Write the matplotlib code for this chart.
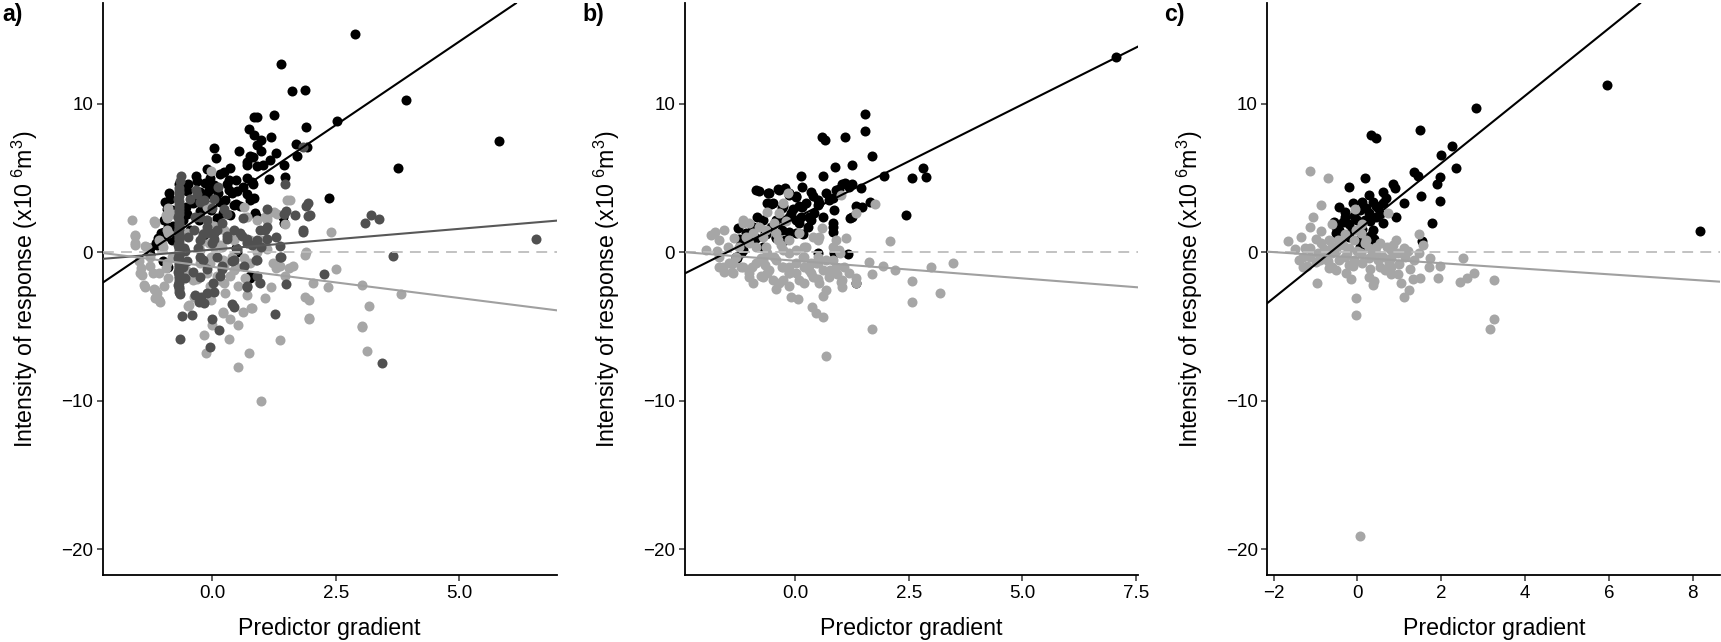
import matplotlib
matplotlib.use('Agg')
from matplotlib import pyplot as plt

plt.rcParams['font.family'] = ['Liberation Sans', 'DejaVu Sans']
plt.rcParams['mathtext.default'] = 'regular'

# ---- panel a ----
a_black = [(2.88, 14.7), (1.39, 12.66), (1.62, 10.86), (1.87, 10.93), (3.92, 10.26), (2.52, 8.87),
           (0.84, 9.14), (0.90, 9.09), (1.24, 9.25), (0.75, 8.28), (1.90, 8.42), (5.81, 7.5),
           (0.84, 7.9), (0.98, 7.56), (1.18, 7.79), (0.91, 7.23), (1.69, 7.3), (1.91, 7.12),
           (0.03, 7.0), (0.54, 6.85), (0.99, 6.85), (0.07, 6.33), (0.77, 6.49), (1.29, 6.71),
           (1.71, 6.49), (0.69, 6.06), (0.90, 5.84), (1.02, 5.88), (3.76, 5.7), (-0.10, 5.59),
           (0.24, 5.43), (0.48, 4.87), (1.15, 4.94), (1.47, 5.1), (-0.33, 5.14), (0.80, 4.76),
           (-0.68, 4.58), (-0.50, 4.58), (-0.14, 4.69), (0.04, 4.53), (0.33, 4.87), (0.61, 4.38),
           (0.12, 3.97), (-0.87, 3.97), (-0.25, 4.09), (0.40, 3.97), (0.85, 3.64), (-0.96, 3.41),
           (0.26, 3.52), (2.36, 3.68), (0.48, 3.25), (-0.39, 3.3), (-0.03, 2.85), (0.87, 2.63),
           (-0.82, 2.85), (1.42, 2.40), (0.22, 2.63), (-0.54, 3.08), (-0.28, 2.18), (-0.97, 2.18),
           (-1.04, 1.28), (-1.11, 0.94), (-0.90, 1.73), (-1.15, 0.61), (-0.82, 0.83), (-0.46, 1.50),
           (-1.26, 0.27), (0.48, 0.27), (0.77, -1.75), (-0.90, -0.97), (-0.28, 3.75), (-0.07, 4.2),
           (0.33, 4.2), (0.77, 3.52), (-1.0, -0.6), (-0.6, 2.2), (0.1, 2.3), (-0.2, 1.1),
           (-0.85, 3.6), (-0.65, 4.3), (-0.31, 4.8), (-0.04, 5.0), (0.16, 5.3), (0.30, 4.6),
           (0.5, 4.1), (0.70, 3.9), (0.83, 4.6), (0.43, 3.2), (0.16, 3.4), (-0.11, 3.9),
           (-0.38, 3.4), (-0.52, 4.1), (-0.92, 2.9), (-0.79, 1.8), (-0.99, 1.0), (-1.12, 0.5),
           (-1.26, -0.1), (-0.99, 1.4), (-0.11, 3.2), (0.03, 4.3), (0.36, 5.7), (0.70, 5.9),
           (0.83, 6.4), (1.17, 6.2), (1.44, 5.9), (0.70, 5.0), (0.36, 2.5), (0.56, 3.1),
           (0.9, 2.4), (1.44, 2.0), (0.76, -1.6), (0.5, 0.0), (-0.52, 2.6), (-0.25, 2.8)]

a_dark = [(1.84, 7.12), (-0.64, 5.14), (1.47, 4.58), (1.94, 3.34), (1.49, 2.81), (1.68, 2.51),
          (1.11, 2.90), (1.94, 2.45), (3.21, 2.51), (3.37, 2.22), (3.09, 1.95), (1.83, 1.35),
          (6.54, 0.88), (1.29, 1.05), (1.06, 1.50), (0.62, 2.29), (0.44, 1.50), (0.69, 0.61),
          (0.91, 0.83), (0.98, 0.38), (0.04, 1.28), (0.19, 1.95), (-0.10, 1.73), (-0.25, 0.83),
          (-0.35, 2.40), (-0.17, 3.52), (0.12, 4.42), (-0.33, 4.2), (3.66, -0.25), (1.38, -0.29),
          (0.89, -0.52), (2.25, -1.46), (1.49, -2.15), (0.69, -2.31), (0.19, -0.92), (0.01, -2.04),
          (-0.25, -1.64), (-0.10, -2.76), (-0.35, -2.87), (-0.28, -3.32), (0.39, -3.48), (1.27, -4.18),
          (-0.62, -4.29), (-0.41, -4.24), (-0.01, -4.51), (0.13, -5.2), (-0.65, -5.84), (-0.05, -6.36),
          (3.43, -7.48),
          (-0.68, 4.3), (-0.67, 4.0), (-0.69, 3.6), (-0.68, 3.2), (-0.67, 2.8), (-0.69, 2.4),
          (-0.68, 2.0), (-0.67, 1.7), (-0.69, 1.4), (-0.68, 1.1), (-0.67, 0.8), (-0.69, 0.5),
          (-0.68, 0.2), (-0.67, -0.1), (-0.69, -0.4), (-0.68, -0.7), (-0.67, -1.0), (-0.69, -1.3),
          (-0.68, -1.6), (-0.67, -1.9), (-0.69, -2.2), (-0.68, -2.5), (-0.66, -2.8),
          (-0.68, 4.15), (-0.68, 3.8), (-0.68, 3.4), (-0.68, 3.0), (-0.68, 2.6), (-0.68, 2.2),
          (-0.68, 1.85), (-0.68, 1.55), (-0.68, 1.25), (-0.68, 0.95), (-0.68, 0.65), (-0.68, 0.35),
          (-0.68, 0.05), (-0.68, -0.25), (-0.68, -0.55), (-0.68, -0.85), (-0.68, -1.15), (-0.68, -1.45),
          (-0.68, -1.75), (-0.68, -2.05), (-0.68, -2.35), (-0.68, -2.65),
          (-0.5, 1.0), (-0.3, 0.3), (-0.2, -0.5), (0.0, 0.6), (0.1, -0.3), (0.3, 0.9),
          (0.2, -1.1), (-0.4, -1.3), (0.5, 0.2), (0.4, -0.6), (-0.1, 2.2), (0.0, 3.0),
          (0.3, 2.6), (-0.45, 3.6), (0.1, 1.5), (0.6, 1.1), (-0.2, 1.2), (0.8, 0.5),
          (-0.55, 0.1), (-0.6, -1.0),
          (-0.65, 4.8), (-0.31, 3.9), (-0.25, 3.4), (0.03, 3.6), (0.23, 2.9), (-0.25, 2.4),
          (-0.38, 1.5), (-0.11, 1.3), (0.03, 0.9), (0.30, 1.1), (0.56, 1.3), (0.7, 0.9),
          (0.97, 1.5), (1.1, 1.7), (1.44, 2.6), (1.1, 0.9), (1.37, 0.4), (-0.25, -0.3),
          (-0.11, -1.1), (0.16, -1.6), (0.43, -0.5), (0.63, -0.9), (0.9, -1.6), (0.70, -2.3),
          (0.97, -2.1), (0.03, -2.7), (-0.24, -3.0), (-0.17, -3.4), (0.43, -3.7), (0.9, -0.5),
          (1.37, -0.3), (1.90, 3.1), (1.97, 2.5), (1.84, 1.5), (-0.58, 0.3), (-0.52, -0.6),
          (-0.55, -1.7)]

a_light = [(-1.62, 2.18), (-1.56, 1.12), (-1.57, 0.49), (-1.16, 2.0), (-0.92, 2.29), (-1.33, 0.38),
           (-1.26, -0.29), (-1.49, -0.56), (-1.42, -1.53), (-1.37, -2.31), (-1.16, -2.54), (-1.08, -3.21),
           (-1.13, -2.76), (-1.44, -1.08), (-1.21, -1.41), (-0.93, -1.08), (-0.82, -0.29), (-1.0, 0.38),
           (-0.03, 5.5), (-0.1, 3.08), (0.64, 3.08), (1.50, 3.52), (1.24, 2.69), (1.06, 2.4),
           (1.10, 2.18), (1.47, 1.89), (2.41, 1.35), (1.87, -0.18), (1.87, -3.03), (1.96, -3.21),
           (2.04, -2.09), (2.34, -2.36), (2.50, -1.14), (1.29, -1.03), (1.55, -1.08), (1.47, -1.59),
           (0.95, -1.98), (1.18, -2.31), (1.07, -3.05), (0.66, -1.75), (0.51, -2.27), (0.69, -2.87),
           (3.03, -2.2), (3.82, -2.83), (3.17, -3.61), (1.96, -4.49), (3.03, -4.94), (0.81, -3.77),
           (0.61, -4.0), (0.22, -4.0), (-0.48, -3.55), (-0.03, -3.21), (0.26, -2.76), (0.13, -1.86),
           (0.40, -0.29), (0.77, -0.74), (0.48, -0.97), (-0.25, -0.74), (-0.54, -1.19), (-0.39, -1.86),
           (-0.9, 1.28), (-1.08, 0.83), (-0.9, 2.96), (-0.93, 2.51), (-0.07, 0.61), (0.19, 0.38),
           (0.44, 0.83), (0.77, 0.83), (1.02, 0.83), (0.91, 2.18), (0.69, 2.40), (0.33, 1.28),
           (0.22, -0.52), (-0.03, -0.29), (-0.25, 0.16), (-0.68, 3.52), (0.04, 0.38),
           (-1.07, -3.32), (-0.50, -3.62), (0.22, -4.07), (0.78, -3.77), (3.12, -6.63), (0.35, -4.51),
           (0.51, -4.9), (0.0, -4.9), (-0.18, -5.57), (0.33, -5.84), (1.36, -5.91), (-0.13, -6.76),
           (0.74, -6.76), (0.51, -7.70), (0.98, -10.0), (1.96, -4.45), (3.02, -5.01),
           (-1.56, 1.16), (-1.56, 0.6), (-1.36, 0.4), (-1.46, -1.4), (-1.39, -2.2), (-1.19, -2.5),
           (-1.16, -3.1), (-0.99, -2.3), (-0.89, -1.7), (-1.09, -1.4), (-1.26, -0.9), (-0.92, -0.7),
           (-1.19, 2.1), (-0.92, 2.4), (-0.92, 1.5), (-1.02, 0.6), (-0.24, -0.5), (-0.04, -0.7),
           (0.23, -0.9), (0.43, -1.2), (0.09, -1.6), (0.36, -1.6), (0.23, -2.1), (-0.11, -1.4),
           (-0.31, -1.8), (-0.04, -2.3), (-0.38, -3.0), (-0.17, 1.3), (0.03, 1.8), (0.23, 1.5),
           (-0.11, 2.2), (-0.24, 0.7), (0.16, 0.5), (0.50, 0.2), (0.70, 0.7), (0.9, 0.0),
           (1.1, 0.2), (1.23, -0.7), (0.63, -0.4), (1.10, 2.4), (1.30, 2.6), (1.57, 3.5),
           (1.36, -0.9), (1.63, -0.9), (1.90, 0.0), (-0.04, 3.1), (-0.79, 2.6), (-0.52, 1.3)]

# ---- panel b ----
b_black = [(7.07, 13.18), (1.54, 9.29), (1.54, 8.17), (0.59, 7.79), (0.65, 7.56), (1.10, 7.79),
           (1.69, 6.51), (0.87, 5.77), (1.26, 5.86), (0.12, 5.14), (0.62, 5.14), (1.95, 5.16),
           (2.81, 5.70), (2.58, 4.98), (2.89, 5.07), (1.10, 4.65), (1.24, 4.60), (0.96, 4.24),
           (1.45, 4.35), (-0.80, 4.13), (-0.59, 4.02), (-0.37, 4.26), (-0.22, 4.31), (0.15, 4.42),
           (0.35, 4.09), (0.67, 4.02), (0.84, 3.64), (0.02, 3.75), (-0.14, 3.86), (0.51, 3.52),
           (-0.63, 3.30), (-0.53, 3.23), (-0.30, 2.96), (0.15, 3.08), (0.51, 3.19), (1.65, 3.37),
           (1.46, 3.08), (1.33, 3.12), (0.85, 2.85), (2.43, 2.51), (1.26, 2.36), (1.21, 2.29),
           (-0.10, 2.63), (0.12, 2.40), (0.41, 2.63), (-0.85, 2.36), (-0.22, 2.18), (0.02, 2.18),
           (0.35, 2.18), (0.84, 1.95), (0.84, 1.39), (-0.54, 1.73), (-0.95, 1.50), (-1.26, 1.62),
           (-0.30, 1.50), (0.02, 1.28), (-1.11, 0.83), (-0.87, 0.94), (-0.67, 1.28), (-0.42, 0.94),
           (-0.22, 0.83), (-1.20, -0.07), (-1.28, -0.40), (-0.71, 0.38), (0.51, -0.07), (0.85, -0.07),
           (1.16, -0.11), (1.33, -2.09), (0.27, 1.73),
           (-0.86, 4.2), (-0.57, 4.0), (-0.35, 4.2), (-0.13, 4.0), (0.02, 3.8), (-0.50, 3.3),
           (-0.28, 3.1), (-0.06, 2.9), (0.09, 3.1), (0.24, 3.3), (0.39, 3.8), (0.53, 3.3),
           (0.61, 2.4), (0.31, 2.4), (0.09, 2.0), (-0.13, 2.4), (-0.42, 2.2), (-0.72, 2.2),
           (-0.94, 1.7), (-1.08, 1.3), (-0.64, 1.2), (-0.42, 1.0), (-0.13, 1.4), (0.17, 1.2),
           (-1.23, 0.9), (-1.15, 0.15), (-1.30, -0.3), (0.75, 3.5), (1.04, 4.6), (1.19, 4.4),
           (0.83, 1.7), (0.90, 4.2)]

b_light = [(-1.97, 0.16), (-1.86, 1.17), (-1.76, 1.39), (-1.56, 1.50), (-1.67, 0.83), (-1.72, 0.11),
           (-1.67, -0.97), (-1.56, -1.30), (-1.40, -1.30), (-1.37, -0.74), (-1.48, 0.38), (-1.34, 0.94),
           (-1.16, 2.0), (-1.20, -0.97), (-1.03, -1.64), (-0.93, -2.09), (-0.75, -1.59), (-0.42, -2.49),
           (-0.67, -0.85), (-1.02, 0.61), (-0.93, 1.28), (-0.72, 1.05), (-0.63, 2.74), (-0.28, 3.30),
           (-0.17, 3.97), (-0.46, 2.0), (-0.32, 0.49), (-0.14, -0.97), (-0.26, -1.86), (-0.10, -3.03),
           (0.07, -3.16), (0.37, -3.66), (0.46, -4.11), (0.61, -4.33), (0.61, -2.94), (0.67, -6.98),
           (1.70, -5.16), (2.58, -3.37), (3.20, -2.76), (2.58, -1.91), (2.99, -1.01), (3.48, -0.70),
           (2.08, 0.79), (1.94, -0.90), (2.20, -1.19), (1.70, -1.48), (1.62, -0.63), (1.33, -1.75),
           (1.0, -1.98), (1.02, -2.36), (0.67, -2.54), (0.51, -1.82), (0.35, -1.41), (0.19, -2.09),
           (0.02, -1.41), (0.19, -0.97), (0.51, -0.74), (0.76, -1.19), (1.08, -0.97), (1.12, 0.94),
           (0.98, -0.07), (1.75, 3.25), (1.33, 2.63), (1.0, 3.86), (0.59, 1.62), (0.39, 1.05),
           (0.19, 0.38), (0.02, 0.16), (-0.14, -0.07), (-0.46, -0.29), (-0.63, -0.07), (-0.75, -0.40),
           (0.19, -0.29), (0.51, -0.29), (0.84, -0.52), (0.35, -0.74), (-0.30, -0.97), (-0.95, -0.97),
           (0.93, -1.48), (-0.14, -1.41), (-0.63, -1.41), (0.51, 0.83), (0.84, 0.38), (-0.38, 0.83),
           (-1.67, -0.3), (-1.59, -0.97), (-1.45, -0.75), (-1.30, -0.3), (-1.15, -0.97), (-1.01, -1.41),
           (-0.86, -0.75), (-0.72, -0.52), (-0.57, -1.19), (-0.50, -1.86), (-0.42, -0.52), (-0.28, -0.97),
           (-0.13, -1.41), (0.02, -0.75), (0.09, -1.86), (0.17, -0.3), (0.31, -1.19), (0.39, -1.63),
           (0.46, -0.75), (0.53, -2.08), (0.61, -1.19), (0.68, -0.52), (0.75, -1.63), (0.90, -0.97),
           (0.97, 0.15), (1.04, -1.86), (1.19, -1.41), (1.34, -2.08), (-0.13, -2.30), (-0.35, -2.08),
           (-0.72, -1.63), (-1.37, -1.41), (-0.28, 0.15), (-0.64, 0.38), (-0.86, 0.38), (-1.08, 1.05),
           (-1.23, 0.38), (0.24, 0.38), (-0.13, 0.82), (-0.42, 1.27), (-0.79, 1.72), (-1.01, 1.94),
           (-0.35, 2.63), (-0.20, 2.1), (0.09, 1.27), (0.53, 1.05), (0.90, 0.82), (-0.64, 1.5),
           (-1.15, 2.2)]

# ---- panel c ----
c_black = [(5.96, 11.27), (8.17, 1.44), (2.82, 9.74), (1.50, 8.24), (0.33, 7.90), (0.44, 7.72),
           (2.25, 7.18), (1.99, 6.55), (2.35, 5.70), (1.34, 5.39), (1.44, 5.16), (1.96, 5.10),
           (1.91, 4.60), (0.18, 4.98), (-0.21, 4.38), (0.84, 4.60), (0.90, 4.35), (0.61, 4.04),
           (0.27, 3.86), (1.51, 3.82), (1.96, 3.48), (1.12, 3.30), (0.12, 3.41), (0.37, 3.41),
           (0.67, 3.64), (-0.45, 3.08), (0.49, 2.96), (0.05, 2.85), (0.93, 2.40), (-0.30, 2.40),
           (-0.08, 2.45), (0.27, 2.63), (0.44, 2.40), (-0.55, 2.07), (-0.34, 2.07), (0.18, 2.18),
           (0.60, 1.95), (1.77, 2.0), (-0.43, 1.50), (-0.12, 1.50), (0.36, 1.50), (-0.21, 1.05),
           (0.03, 0.83), (0.33, 1.17), (1.53, 0.76), (0.05, 0.38), (-0.52, 1.28),
           (-0.5, 1.7), (-0.3, 2.7), (-0.2, 1.9), (0.0, 2.2), (0.1, 1.6), (0.2, 3.0),
           (0.3, 2.1), (0.45, 3.1), (0.55, 2.6), (0.15, 1.0), (-0.1, 3.3), (0.25, 0.6),
           (0.4, 0.9), (0.6, 3.3)]

c_light = [(-1.13, 5.48), (-0.71, 4.98), (-0.88, 3.19), (-1.05, 2.40), (-0.06, 2.92), (0.72, 2.63),
           (-1.14, 1.73), (-0.86, 1.46), (-1.66, 0.79), (-1.34, 1.05), (-1.30, -0.97), (-1.13, -0.29),
           (-0.97, -2.04), (-0.69, -1.08), (-0.27, -1.37), (-0.04, -3.05), (-0.03, -4.22), (0.36, -2.20),
           (0.27, -1.64), (0.79, -1.46), (0.96, -1.46), (0.92, 0.83), (1.12, 0.27), (1.47, 1.21),
           (1.57, 0.49), (1.74, -0.40), (1.70, -1.01), (1.98, -0.92), (2.53, -0.36), (2.77, -1.37),
           (2.62, -1.71), (2.45, -1.98), (3.27, -1.86), (3.26, -4.49), (3.16, -5.19), (1.92, -1.75),
           (1.50, -1.71), (1.33, -1.82), (1.23, -2.54), (1.11, -3.03), (0.75, -0.74), (0.62, -0.29),
           (0.44, -0.07), (0.27, -0.40), (0.09, -0.07), (-0.08, -0.52), (-0.26, -0.07), (-0.43, -0.52),
           (-0.60, -0.07), (-0.78, -0.29), (-0.95, -0.07), (-1.13, 0.27), (-1.25, 0.27), (-0.86, 0.61),
           (-0.60, 0.38), (-0.34, 0.49), (-0.08, 0.83), (0.18, 0.61), (0.44, 0.38), (0.70, 0.38),
           (0.96, -0.07), (1.14, -0.29), (0.79, -0.97), (0.53, -0.97), (-0.60, -0.97), (-0.21, -0.85),
           (-0.04, 1.50), (0.09, 1.28), (-0.69, 0.83), (-0.47, 0.83), (1.48, -0.07), (1.36, -0.52),
           (0.27, 0.27), (0.79, 0.16), (-1.30, -0.29), (-0.99, -0.63), (0.05, -19.12),
           (-1.5, 0.2), (-1.4, -0.5), (-1.2, -0.9), (-1.0, 0.9), (-0.9, -0.5), (-0.8, 0.2),
           (-0.7, -0.6), (-0.5, 0.1), (-0.5, -1.2), (-0.4, 0.6), (-0.3, -0.3), (-0.2, 0.3),
           (-0.1, -0.9), (0.0, 0.1), (0.1, -0.7), (0.2, 0.8), (0.3, -1.1), (0.35, 0.1),
           (0.5, -0.5), (0.55, 0.6), (0.65, -1.2), (0.8, -0.4), (0.85, 0.5), (1.0, -0.8),
           (1.05, -2.1), (1.2, 0.1), (1.25, -1.1), (0.4, -1.9), (-0.15, -1.8), (-0.6, 1.9),
           (-0.3, 1.2), (0.1, 1.9)]

# fitted lines as (intercept, slope)
a_fit_black = (2.95, 2.25)
a_fit_dark = (0.18, 0.28)
a_fit_light = (-0.98, -0.42)
b_fit_black = (2.30, 1.53)
b_fit_light = (-0.57, -0.237)
c_fit_black = (1.46, 2.27)
c_fit_light = (-0.36, -0.187)

BLACK = '#000000'
DARK = '#505050'
LIGHT = '#a6a6a6'
DARK_LINE = '#585858'
LIGHT_LINE = '#a0a0a0'
ZERO = '#bdbdbd'

fig = plt.figure(figsize=(17.21, 6.42), dpi=100)
positions = [[0.0597, 0.1044, 0.2638, 0.8905],
             [0.3980, 0.1044, 0.2632, 0.8905],
             [0.7364, 0.1044, 0.2632, 0.8905]]

panels = [
    ([(a_black, BLACK), (a_light, LIGHT), (a_dark, DARK)],
     [(a_fit_black, BLACK), (a_fit_dark, DARK_LINE), (a_fit_light, LIGHT_LINE)],
     (-2.22, 6.97), [0, 2.5, 5], ['0.0', '2.5', '5.0'], 'a)'),
    ([(b_black, BLACK), (b_light, LIGHT)],
     [(b_fit_black, BLACK), (b_fit_light, LIGHT_LINE)],
     (-2.43, 7.55), [0, 2.5, 5, 7.5], ['0.0', '2.5', '5.0', '7.5'], 'b)'),
    ([(c_black, BLACK), (c_light, LIGHT)],
     [(c_fit_black, BLACK), (c_fit_light, LIGHT_LINE)],
     (-2.15, 8.66), [-2, 0, 2, 4, 6, 8], ['\u22122', '0', '2', '4', '6', '8'], 'c)'),
]
ylabel_x = [25, 607, 1190]
tag_x = [2, 582, 1164]

for i, (groups, fits, xlim, xt, xtl, tag) in enumerate(panels):
    ax = fig.add_axes(positions[i])
    for pts, col in groups:
        xs = [p[0] for p in pts]
        ys = [p[1] for p in pts]
        ax.scatter(xs, ys, s=52, c=col, linewidths=0, zorder=2)
    ax.axhline(0, color=ZERO, lw=1.3, ls=(0, (6, 4)), zorder=3)
    for (b, m), col in fits:
        ax.axline((0, b), slope=m, color=col, lw=1.5, zorder=4)
    ax.set_xlim(xlim)
    ax.set_ylim(-21.73, 16.77)
    ax.set_xticks(xt)
    ax.set_xticklabels(xtl)
    ax.set_yticks([-20, -10, 0, 10])
    ax.set_yticklabels(['\u221220', '\u221210', '0', '10'])
    for s in ['top', 'right']:
        ax.spines[s].set_visible(False)
    for s in ['left', 'bottom']:
        ax.spines[s].set_linewidth(1.3)
    ax.tick_params(length=4, width=1.1, color='#333333', labelsize=13.5, pad=3)
    mid = positions[i][0] + positions[i][2] / 2
    fig.text(mid, 7 / 642, 'Predictor gradient', ha='center', va='baseline', fontsize=16.7)
    fig.text(ylabel_x[i] / 1721, 0.55, r'Intensity of response (x10$^{\ 6}$m$^{3}$)',
             rotation=90, ha='center', va='center', fontsize=16.7)
    fig.text(tag_x[i] / 1721, 1 - 14 / 642, tag, ha='left', va='center', fontsize=16.7,
             fontweight='bold')

fig.savefig('out.png', dpi=100)
